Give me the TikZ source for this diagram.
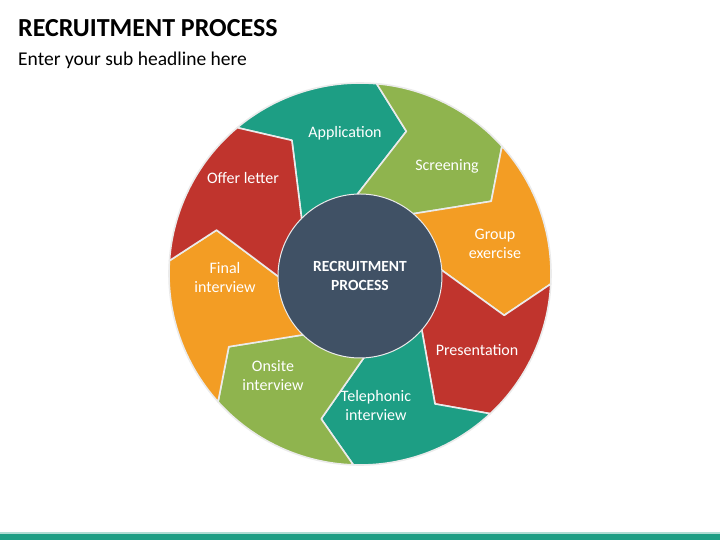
\documentclass[tikz,border=0pt]{standalone}
\usepackage{fontspec}
\setmainfont{Carlito}
\usepackage{xcolor}
\usepackage{tikz}

\definecolor{segteal}{RGB}{29,158,132}
\definecolor{seggreen}{RGB}{143,180,78}
\definecolor{segorange}{RGB}{243,157,36}
\definecolor{segred}{RGB}{192,52,45}
\definecolor{hubslate}{RGB}{64,81,101}

% tail angle, head angle, fill colour
\newcommand\ringarrow[3]{%
  \filldraw[segment, fill=#3] (#1:191pt) arc[start angle=#1, end angle=#2, radius=191pt]
    -- (#2-13:150pt) -- (#2+10:75pt) arc[start angle=#2+10, end angle=#1+10, radius=75pt]
    -- (#1-13:150pt) -- cycle;}

\begin{document}
\begin{tikzpicture}[
        x=1pt, y=1pt,
        segment/.style={draw=white!92!black, line width=1.6pt, line join=round},
        segtext/.style={text=white, align=center, inner sep=1pt, font=\fontsize{16}{19}\selectfont},
        hub/.style={circle, fill=hubslate, draw=white!92!black, line width=1pt, minimum size=164pt, text=white, align=center, font=\bfseries\fontsize{15.5}{19}\selectfont},
        headline/.style={anchor=base west, inner sep=0pt, font=\bfseries\fontsize{26}{30}\selectfont},
        subline/.style={anchor=base west, inner sep=0pt, font=\fontsize{19.5}{23}\selectfont}
    ]
        \useasboundingbox (0,0) rectangle (720,540);
        \fill[white] (0,0) rectangle (720,540);

        \node[headline] (title) at (18,503) {RECRUITMENT PROCESS};
        \node[subline] (subtitle) at (18,474) {Enter your sub headline here};

        \begin{scope}[shift={(360,266)}]
            \ringarrow{130}{85}{segteal}
            \ringarrow{85}{42}{seggreen}
            \ringarrow{42}{-3}{segorange}
            \ringarrow{-3}{-47}{segred}
            \ringarrow{-47}{-92}{segteal}
            \ringarrow{-92}{-138}{seggreen}
            \ringarrow{-138}{-184}{segorange}
            \ringarrow{176}{130}{segred}
        \end{scope}

        \node[hub] (hub) at (360,264) {RECRUITMENT\\PROCESS};

        \node[segtext] (application) at (345,407) {Application};
        \node[segtext] (screening) at (447,374) {Screening};
        \node[segtext] (groupex) at (495,296) {Group\\exercise};
        \node[segtext] (presentation) at (477,190) {Presentation};
        \node[segtext] (telephonic) at (376,134) {Telephonic\\interview};
        \node[segtext] (onsite) at (273,164) {Onsite\\interview};
        \node[segtext] (finalint) at (225,262) {Final\\interview};
        \node[segtext] (offer) at (243,362) {Offer letter};

        \fill[segteal!35] (0,6) rectangle (720,7.5);
        \fill[segteal] (0,0) rectangle (720,6);
    \end{tikzpicture}
\end{document}
